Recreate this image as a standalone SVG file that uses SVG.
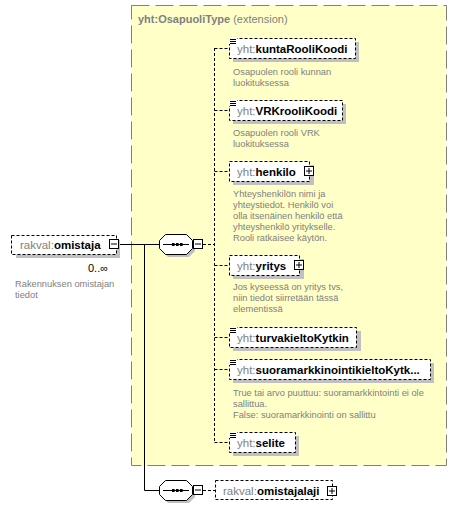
<svg xmlns="http://www.w3.org/2000/svg" width="458" height="510" viewBox="0 0 458 510">
<style>
text{font-family:"Liberation Sans",Arial,sans-serif}
.pfx{fill:#808080;font-size:11.5px}
.nm{fill:#000;font-size:11.5px;font-weight:bold}
.desc{fill:#808080;font-size:9.3px}
.box{fill:#fff;stroke:#000;stroke-width:1;stroke-dasharray:3,2}
.shadow{fill:#c0c0c0}
.btn{fill:#fff;stroke:#000;stroke-width:1}
.solid{stroke:#000;stroke-width:1;fill:none}
.dash{stroke:#000;stroke-width:1;fill:none;stroke-dasharray:3,2}
.icon{stroke:#000;stroke-width:1}
</style>
<defs>
<g id="minus"><rect class="btn" x="0.5" y="0.5" width="9" height="9"/><line class="icon" x1="2" y1="5" x2="8" y2="5"/></g>
<g id="plus"><rect class="btn" x="0.5" y="0.5" width="9" height="9"/><line class="icon" x1="2" y1="5" x2="8" y2="5"/><line class="icon" x1="5" y1="2" x2="5" y2="8"/></g>
<g id="simple"><rect x="0" y="0" width="8" height="6" fill="#fff"/><line class="icon" x1="1" y1="1.5" x2="7" y2="1.5"/><line class="icon" x1="1" y1="3.5" x2="7" y2="3.5"/><line class="icon" x1="1" y1="5.5" x2="7" y2="5.5"/></g>
<g id="seq">
<path d="M9,3 H30 L36,9 V17 L30,23 H9 L3,17 V9 Z" fill="#c0c0c0"/>
<path d="M6.5,0.5 H27.5 L33.5,6.5 V14.5 L27.5,20.5 H6.5 L0.5,14.5 V6.5 Z" fill="#fff" stroke="#000"/>
<line x1="4" y1="10.5" x2="30" y2="10.5" stroke="#000"/>
<rect x="13" y="9" width="2.6" height="3" fill="#000"/><rect x="17" y="9" width="2.6" height="3" fill="#000"/><rect x="21" y="9" width="2.6" height="3" fill="#000"/>
</g>
</defs>

<g id="ext-box">
<rect x="131.5" y="5.5" width="315" height="460" fill="#ffffc8" stroke="#808080" stroke-dasharray="18,6"/>
<text x="138" y="23" font-size="11px"><tspan fill="#808080" font-weight="bold">yht:OsapuoliType</tspan><tspan fill="#808080"> (extension)</tspan></text>
</g>

<g id="connectors">
<line class="solid" x1="119" y1="244.5" x2="159" y2="244.5"/>
<polyline class="solid" points="144.5,244.5 144.5,490.5 159,490.5"/>
<line class="dash" x1="203" y1="244.5" x2="214" y2="244.5"/>
<line class="dash" x1="214.5" y1="48" x2="214.5" y2="442.5"/>
<line class="dash" x1="214.5" y1="48.5" x2="229" y2="48.5"/>
<line class="dash" x1="214.5" y1="110.5" x2="229" y2="110.5"/>
<line class="dash" x1="214.5" y1="171.5" x2="229" y2="171.5"/>
<line class="dash" x1="214.5" y1="265.5" x2="229" y2="265.5"/>
<line class="dash" x1="214.5" y1="337.5" x2="229" y2="337.5"/>
<line class="dash" x1="214.5" y1="369.5" x2="229" y2="369.5"/>
<line class="dash" x1="214.5" y1="442.5" x2="229" y2="442.5"/>
<line class="dash" x1="203" y1="490.5" x2="215" y2="490.5"/>
</g>

<g id="root">
<rect class="shadow" x="16" y="240" width="104" height="18"/>
<rect class="box" x="11.5" y="235.5" width="105" height="19"/>
<text x="20" y="249"><tspan class="pfx">rakval:</tspan><tspan class="nm">omistaja</tspan></text>
<use href="#minus" x="109" y="239"/>
<text x="88" y="272" font-size="11px" fill="#000">0..∞</text>
<text class="desc" x="15" y="287">Rakennuksen omistajan</text>
<text class="desc" x="15" y="298">tiedot</text>
</g>

<g id="seq1">
<use href="#seq" x="159" y="234"/>
<use href="#minus" x="193" y="239"/>
</g>

<g id="kuntaRooliKoodi">
<rect class="shadow" x="233" y="42" width="126" height="20"/>
<rect class="box" x="229.5" y="38.5" width="126" height="20"/>
<use href="#simple" x="229" y="38"/>
<text x="237" y="53"><tspan class="pfx">yht:</tspan><tspan class="nm">kuntaRooliKoodi</tspan></text>
<text class="desc" x="233" y="75">Osapuolen rooli kunnan</text>
<text class="desc" x="233" y="86">luokituksessa</text>
</g>

<g id="VRKrooliKoodi">
<rect class="shadow" x="233" y="104" width="113" height="20"/>
<rect class="box" x="229.5" y="100.5" width="113" height="20"/>
<use href="#simple" x="229" y="100"/>
<text x="237" y="115"><tspan class="pfx">yht:</tspan><tspan class="nm">VRKrooliKoodi</tspan></text>
<text class="desc" x="233" y="136">Osapuolen rooli VRK</text>
<text class="desc" x="233" y="147">luokituksessa</text>
</g>

<g id="henkilo">
<rect class="shadow" x="233" y="165" width="81" height="20"/>
<rect class="box" x="229.5" y="161.5" width="80" height="20"/>
<text x="237" y="176"><tspan class="pfx">yht:</tspan><tspan class="nm">henkilo</tspan></text>
<use href="#plus" x="304" y="166"/>
<text class="desc" x="233" y="197">Yhteyshenkilön nimi ja</text>
<text class="desc" x="233" y="208">yhteystiedot. Henkilö voi</text>
<text class="desc" x="233" y="219">olla itsenäinen henkilö että</text>
<text class="desc" x="233" y="230">yhteyshenkilö yritykselle.</text>
<text class="desc" x="233" y="241">Rooli ratkaisee käytön.</text>
</g>

<g id="yritys">
<rect class="shadow" x="233" y="259" width="71" height="20"/>
<rect class="box" x="229.5" y="255.5" width="70" height="20"/>
<text x="237" y="270"><tspan class="pfx">yht:</tspan><tspan class="nm">yritys</tspan></text>
<use href="#plus" x="294" y="260"/>
<text class="desc" x="233" y="290">Jos kyseessä on yritys tvs,</text>
<text class="desc" x="233" y="301">niin tiedot siirretään tässä</text>
<text class="desc" x="233" y="312">elementissä</text>
</g>

<g id="turvakieltoKytkin">
<rect class="shadow" x="233" y="331" width="128" height="20"/>
<rect class="box" x="229.5" y="327.5" width="127" height="20"/>
<use href="#simple" x="229" y="327"/>
<text x="237" y="342"><tspan class="pfx">yht:</tspan><tspan class="nm">turvakieltoKytkin</tspan></text>
</g>

<g id="suoramarkkinointikieltoKytkin">
<rect class="shadow" x="233" y="363" width="201" height="20"/>
<rect class="box" x="229.5" y="359.5" width="201" height="20"/>
<use href="#simple" x="229" y="359"/>
<text x="237" y="374"><tspan class="pfx">yht:</tspan><tspan class="nm">suoramarkkinointikieltoKytk...</tspan></text>
<text class="desc" x="233" y="396">True tai arvo puuttuu: suoramarkkintointi ei ole</text>
<text class="desc" x="233" y="407">sallittua.</text>
<text class="desc" x="233" y="418">False: suoramarkkinointi on sallittu</text>
</g>

<g id="selite">
<rect class="shadow" x="233" y="436" width="66" height="20"/>
<rect class="box" x="229.5" y="432.5" width="66" height="20"/>
<use href="#simple" x="229" y="432"/>
<text x="237" y="447"><tspan class="pfx">yht:</tspan><tspan class="nm">selite</tspan></text>
</g>

<g id="seq2">
<use href="#seq" x="159" y="480"/>
<use href="#minus" x="193" y="485"/>
</g>

<g id="omistajalaji">
<rect class="box" x="215.5" y="480.5" width="117" height="19" stroke="#404040"/>
<text x="223" y="495"><tspan class="pfx">rakval:</tspan><tspan class="nm">omistajalaji</tspan></text>
<use href="#plus" x="327" y="486"/>
</g>
</svg>
